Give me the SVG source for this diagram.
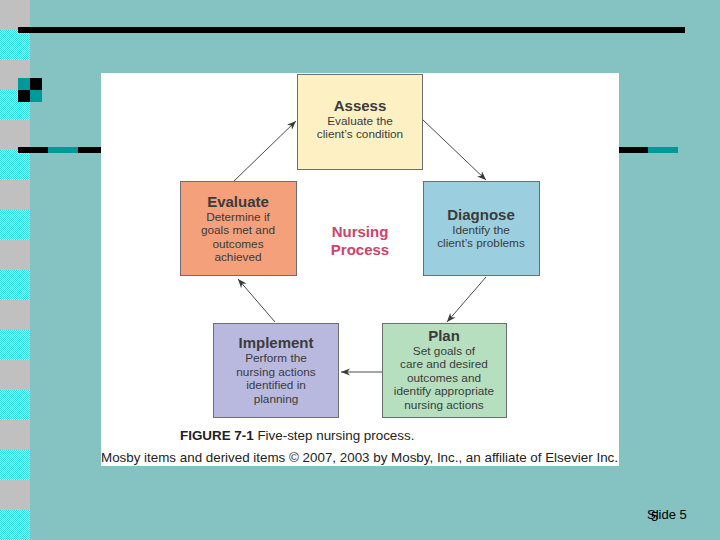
<svg xmlns="http://www.w3.org/2000/svg" width="720" height="540" viewBox="0 0 720 540">
<defs>
<pattern id="chk" width="2" height="2" patternUnits="userSpaceOnUse">
<rect width="2" height="2" fill="#d4eeee"/>
<rect width="1" height="1" fill="#30dede"/>
<rect x="1" y="1" width="1" height="1" fill="#30dede"/>
</pattern>
<marker id="ah" viewBox="0 0 10 10" refX="10" refY="5" markerWidth="9" markerHeight="9" markerUnits="userSpaceOnUse" orient="auto">
<path d="M0,1 L10,5 L0,9 L3,5 Z" fill="#3a3a3a"/>
</marker>
<style>
.box{stroke:#6e6e6e;stroke-width:1}
.t{font-family:"Liberation Sans",Arial,sans-serif;fill:#3b3b3b;text-anchor:middle}
.h{font-size:15px;font-weight:bold}
.b{font-size:11.8px}
.np{font-family:"Liberation Sans",Arial,sans-serif;font-size:15px;font-weight:bold;fill:#cf4268;text-anchor:middle}
.c{stroke:#4a4a4a;stroke-width:1;fill:none;marker-end:url(#ah)}
</style>
</defs>
<rect width="720" height="540" fill="#85c2c2"/>
<g id="stripe">
<rect x="0" y="0" width="30" height="540" fill="#c0c0c0"/>
<rect x="0" y="30" width="30" height="30" fill="url(#chk)"/>
<rect x="0" y="90" width="30" height="30" fill="url(#chk)"/>
<rect x="0" y="150" width="30" height="30" fill="url(#chk)"/>
<rect x="0" y="210" width="30" height="30" fill="url(#chk)"/>
<rect x="0" y="270" width="30" height="30" fill="url(#chk)"/>
<rect x="0" y="330" width="30" height="30" fill="url(#chk)"/>
<rect x="0" y="390" width="30" height="30" fill="url(#chk)"/>
<rect x="0" y="450" width="30" height="30" fill="url(#chk)"/>
<rect x="0" y="510" width="30" height="30" fill="url(#chk)"/>
</g>
<g id="decor">
<rect x="18" y="27" width="667" height="6" fill="#000"/>
<rect x="18" y="78" width="12" height="12" fill="#009999"/>
<rect x="30" y="78" width="12" height="12" fill="#000"/>
<rect x="18" y="90" width="12" height="12" fill="#000"/>
<rect x="30" y="90" width="12" height="12" fill="#009999"/>
<rect x="18" y="147" width="30" height="6" fill="#000"/>
<rect x="48" y="147" width="30" height="6" fill="#009999"/>
<rect x="78" y="147" width="30" height="6" fill="#000"/>
<rect x="612" y="147" width="36" height="6" fill="#000"/>
<rect x="648" y="147" width="30" height="6" fill="#009999"/>
</g>
<rect x="101" y="73" width="518" height="393" fill="#ffffff"/>
<g id="connectors">
<line class="c" x1="234" y1="181" x2="296" y2="121"/>
<line class="c" x1="422" y1="119" x2="486" y2="180"/>
<line class="c" x1="486" y1="277" x2="447" y2="322"/>
<line class="c" x1="382" y1="372" x2="341" y2="372"/>
<line class="c" x1="275" y1="322" x2="238" y2="279"/>
</g>
<g id="assess">
<rect class="box" x="297.5" y="74.5" width="125" height="95" fill="#fdf0c3"/>
<text class="t h" x="360" y="111">Assess</text>
<text class="t b" x="360" y="125">Evaluate the</text>
<text class="t b" x="360" y="138">client’s condition</text>
</g>
<g id="diagnose">
<rect class="box" x="423.5" y="181.5" width="116" height="94" fill="#9bcfdf"/>
<text class="t h" x="481" y="220">Diagnose</text>
<text class="t b" x="481" y="234">Identify the</text>
<text class="t b" x="481" y="247">client’s problems</text>
</g>
<g id="plan">
<rect class="box" x="382.5" y="323.5" width="124" height="94" fill="#b6dfc0"/>
<text class="t h" x="444" y="341">Plan</text>
<text class="t b" x="444" y="355">Set goals of</text>
<text class="t b" x="444" y="368">care and desired</text>
<text class="t b" x="444" y="382">outcomes and</text>
<text class="t b" x="444" y="395">identify appropriate</text>
<text class="t b" x="444" y="409">nursing actions</text>
</g>
<g id="implement">
<rect class="box" x="213.5" y="323.5" width="125" height="94" fill="#b9b9df"/>
<text class="t h" x="276" y="348">Implement</text>
<text class="t b" x="276" y="362">Perform the</text>
<text class="t b" x="276" y="376">nursing actions</text>
<text class="t b" x="276" y="389">identified in</text>
<text class="t b" x="276" y="403">planning</text>
</g>
<g id="evaluate">
<rect class="box" x="180.5" y="181.5" width="116" height="94" fill="#f4a07b"/>
<text class="t h" x="238" y="207">Evaluate</text>
<text class="t b" x="238" y="221">Determine if</text>
<text class="t b" x="238" y="234">goals met and</text>
<text class="t b" x="238" y="248">outcomes</text>
<text class="t b" x="238" y="261">achieved</text>
</g>
<g id="center">
<text class="np" x="360" y="237">Nursing</text>
<text class="np" x="360" y="255">Process</text>
</g>
<g id="caption" font-family="'Liberation Sans',Arial,sans-serif" fill="#222">
<text x="180" y="440" font-size="13.4"><tspan font-weight="bold">FIGURE 7-1</tspan> Five-step nursing process.</text>
<text x="101" y="462" font-size="13" textLength="517" lengthAdjust="spacingAndGlyphs">Mosby items and derived items © 2007, 2003 by Mosby, Inc., an affiliate of Elsevier Inc.</text>
</g>
<g id="slidenum" font-family="'Liberation Sans',Arial,sans-serif" font-size="13" fill="#000">
<text x="647" y="519">Slide 5</text>
<text x="651" y="521">5</text>
</g>
</svg>
